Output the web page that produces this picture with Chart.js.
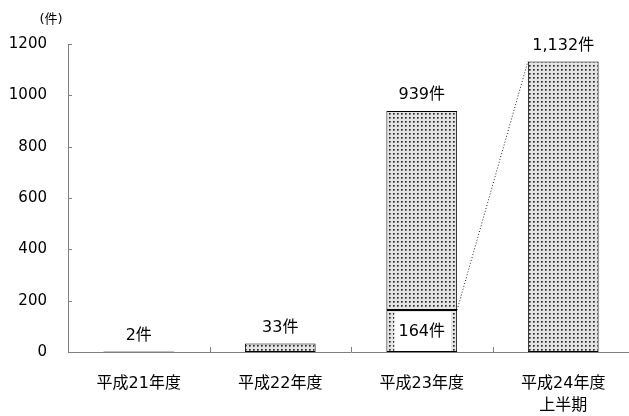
<!DOCTYPE html>
<html lang="ja">
<head>
<meta charset="utf-8">
<script src="https://cdn.jsdelivr.net/npm/chart.js@4"></script>
<style>
  html, body { margin: 0; padding: 0; background: #fff; overflow: hidden; }
  canvas { display: block; }
</style>
</head>
<body>
<canvas id="c" width="640" height="416"></canvas>
<script>
// 件数の推移
const categories = [['平成21年度'], ['平成22年度'], ['平成23年度'], ['平成24年度', '上半期']];
const totals = [2, 33, 939, 1132];
// 平成23年度のうち内訳として示す件数
const portion = [null, null, 164, null];
const yTicks = [0, 200, 400, 600, 800, 1000, 1200];
const unitLabel = '(件)';

const FONT = '"DejaVu Sans", "Noto Sans CJK JP", sans-serif';
const AXIS_COLOR = '#7f7f7f';

const lower = totals.map((t, i) => portion[i] != null ? portion[i] : t);
const upper = totals.map((t, i) => t - lower[i]);

function fmt(v) { return v.toLocaleString('en-US') + '件'; }

// 網点パターン
function dotPattern() {
  const tile = document.createElement('canvas');
  tile.width = 4; tile.height = 4;
  const g = tile.getContext('2d');
  g.fillStyle = '#e4e4e4';
  g.fillRect(0, 0, 4, 4);
  g.fillStyle = '#9a9a9a';
  g.fillRect(1, 1, 2, 2);
  g.fillStyle = '#2e2e2e';
  g.fillRect(1, 1, 1, 1);
  g.fillStyle = '#5c5c5c';
  g.fillRect(2, 1, 1, 1);
  g.fillRect(1, 2, 1, 1);
  return document.getElementById('c').getContext('2d').createPattern(tile, 'repeat');
}
const pattern = dotPattern();

const decorations = {
  id: 'decorations',
  afterDatasetsDraw(chart) {
    const ctx = chart.ctx;
    const area = chart.chartArea;
    const y = chart.scales.y;
    const x = chart.scales.x;
    const base = chart.getDatasetMeta(0).data;
    ctx.save();

    // 内向きの目盛り
    ctx.strokeStyle = AXIS_COLOR;
    ctx.lineWidth = 1;
    ctx.beginPath();
    yTicks.forEach(v => {
      const py = Math.round(y.getPixelForValue(v)) + 0.5;
      ctx.moveTo(area.left, py);
      ctx.lineTo(area.left + 4, py);
    });
    for (let i = 1; i < categories.length; i++) {
      const px = Math.round((x.getPixelForValue(i - 1) + x.getPixelForValue(i)) / 2) + 0.5;
      ctx.moveTo(px, area.bottom);
      ctx.lineTo(px, area.bottom - 5);
    }
    ctx.stroke();

    // 値ラベル
    ctx.fillStyle = '#000';
    ctx.font = '16px ' + FONT;
    ctx.textAlign = 'center';
    ctx.textBaseline = 'bottom';
    totals.forEach((t, i) => {
      const px = x.getPixelForValue(i);
      const py = y.getPixelForValue(t);
      ctx.fillText(fmt(t), px, Math.min(py, area.bottom) - 8);
    });

    // 内訳ラベルと接続線
    portion.forEach((p, i) => {
      if (p == null) return;
      const bar = base[i];
      const left = bar.x - bar.width / 2;
      const right = bar.x + bar.width / 2;
      const top = y.getPixelForValue(p);
      const bottom = y.getPixelForValue(0);
      ctx.fillStyle = '#fff';
      ctx.fillRect(left + 8, top + 2, bar.width - 14, bottom - top - 3);
      ctx.fillStyle = '#000';
      ctx.textBaseline = 'middle';
      ctx.fillText(fmt(p), bar.x, (top + bottom) / 2 + 1);

      const next = base[i + 1];
      if (next) {
        ctx.strokeStyle = '#222';
        ctx.setLineDash([1, 2]);
        ctx.beginPath();
        ctx.moveTo(right, top);
        ctx.lineTo(next.x - next.width / 2, y.getPixelForValue(totals[i + 1]));
        ctx.stroke();
        ctx.setLineDash([]);
      }
    });

    // 単位
    ctx.font = '13px ' + FONT;
    ctx.textBaseline = 'middle';
    ctx.fillText(unitLabel, 51, 20);
    ctx.restore();
  }
};

new Chart(document.getElementById('c'), {
  type: 'bar',
  data: {
    labels: categories,
    datasets: [
      { data: lower, backgroundColor: pattern, borderColor: '#000', borderWidth: 1, borderSkipped: false },
      { data: upper, backgroundColor: pattern, borderColor: '#000', borderWidth: 1, borderSkipped: false }
    ]
  },
  options: {
    responsive: false,
    animation: false,
    devicePixelRatio: 1,
    layout: { padding: { top: 44, right: 6, left: 0, bottom: 0 } },
    plugins: { legend: { display: false }, tooltip: { enabled: false } },
    datasets: { bar: { categoryPercentage: 1, barPercentage: 0.5 } },
    scales: {
      x: {
        stacked: true,
        grid: { display: false, drawTicks: false },
        border: { display: true, color: AXIS_COLOR, width: 1 },
        ticks: { color: '#000', font: { family: FONT, size: 16, lineHeight: 1.38 }, padding: 21, maxRotation: 0 },
        afterFit(s) { s.height = 64; }
      },
      y: {
        stacked: true,
        min: 0, max: 1200,
        afterBuildTicks(s) { s.ticks = yTicks.map(v => ({ value: v })); },
        grid: { display: false, drawTicks: false },
        border: { display: true, color: AXIS_COLOR, width: 1 },
        ticks: { color: '#000', font: { family: FONT, size: 15 }, padding: 21, callback: v => String(v) },
        afterFit(s) { s.width = 68; }
      }
    }
  },
  plugins: [decorations]
});
</script>
</body>
</html>
